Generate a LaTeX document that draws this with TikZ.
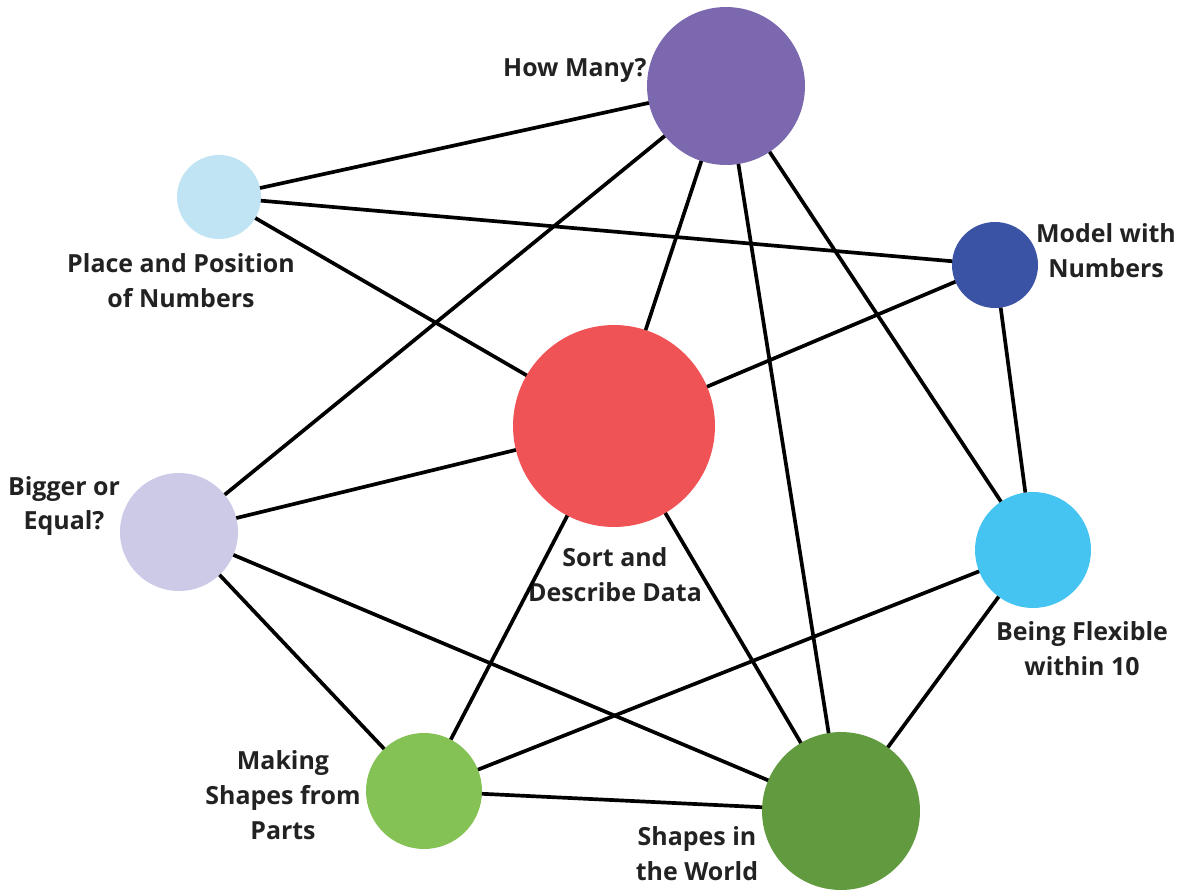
\documentclass[tikz,border=0pt]{standalone}
\usepackage{fontspec}
\setmainfont{Open Sans}
\usetikzlibrary{positioning}
\definecolor{howcol}{HTML}{7B68AE}
\definecolor{placecol}{HTML}{C1E4F5}
\definecolor{modelcol}{HTML}{3A53A4}
\definecolor{sortcol}{HTML}{EF5356}
\definecolor{biggercol}{HTML}{CCCAE6}
\definecolor{flexcol}{HTML}{45C4F2}
\definecolor{makecol}{HTML}{85C255}
\definecolor{worldcol}{HTML}{629B3F}
\definecolor{tagtext}{HTML}{222222}
\tikzset{
  topic/.style={circle, fill=#1, inner sep=0pt, outer sep=0pt},
  tag/.style={font=\bfseries\fontsize{14.2}{19.8}\selectfont, text=tagtext, align=center, inner sep=0pt},
  link/.style={line width=2.1pt, black},
}

\begin{document}
\begin{tikzpicture}[x=0.02cm, y=-0.02cm]
	\useasboundingbox (0,0) rectangle (1185,891);

	% topics
	\node[topic=howcol, minimum size=3.16cm] (howmany) at (726,86) {};
	\node[topic=placecol, minimum size=1.68cm] (place) at (219,197) {};
	\node[topic=modelcol, minimum size=1.72cm] (model) at (995,265) {};
	\node[topic=sortcol, minimum size=4.04cm] (sort) at (614,426) {};
	\node[topic=biggercol, minimum size=2.36cm] (bigger) at (179,532) {};
	\node[topic=flexcol, minimum size=2.32cm] (flex) at (1033,550) {};
	\node[topic=makecol, minimum size=2.32cm] (making) at (424,791) {};
	\node[topic=worldcol, minimum size=3.16cm] (world) at (841,811) {};

	% labels
	\node[tag, anchor=east] (howmany-tag) at (647,70) {How Many?};
	\node[tag] (place-tag) at (181,281) {Place and Position\\of Numbers};
	\node[tag] (model-tag) at (1106,251) {Model with\\Numbers};
	\node[tag] (sort-tag) at (615,575) {Sort and\\Describe Data};
	\node[tag] (bigger-tag) at (64,506) {Bigger or\\Equal?};
	\node[tag] (flex-tag) at (1082,649) {Being Flexible\\within 10};
	\node[tag] (making-tag) at (283,795) {Making\\Shapes from\\Parts};
	\node[tag] (world-tag) at (697,854) {Shapes in\\the World};

	% links
	\draw[link] (place) -- (howmany);
	\draw[link] (place) -- (model);
	\draw[link] (place) -- (sort);
	\draw[link] (howmany) -- (bigger);
	\draw[link] (howmany) -- (sort);
	\draw[link] (howmany) -- (world);
	\draw[link] (howmany) -- (flex);
	\draw[link] (model) -- (sort);
	\draw[link] (model) -- (flex);
	\draw[link] (bigger) -- (sort);
	\draw[link] (bigger) -- (making);
	\draw[link] (bigger) -- (world);
	\draw[link] (sort) -- (making);
	\draw[link] (sort) -- (world);
	\draw[link] (flex) -- (making);
	\draw[link] (flex) -- (world);
	\draw[link] (making) -- (world);
\end{tikzpicture}
\end{document}
